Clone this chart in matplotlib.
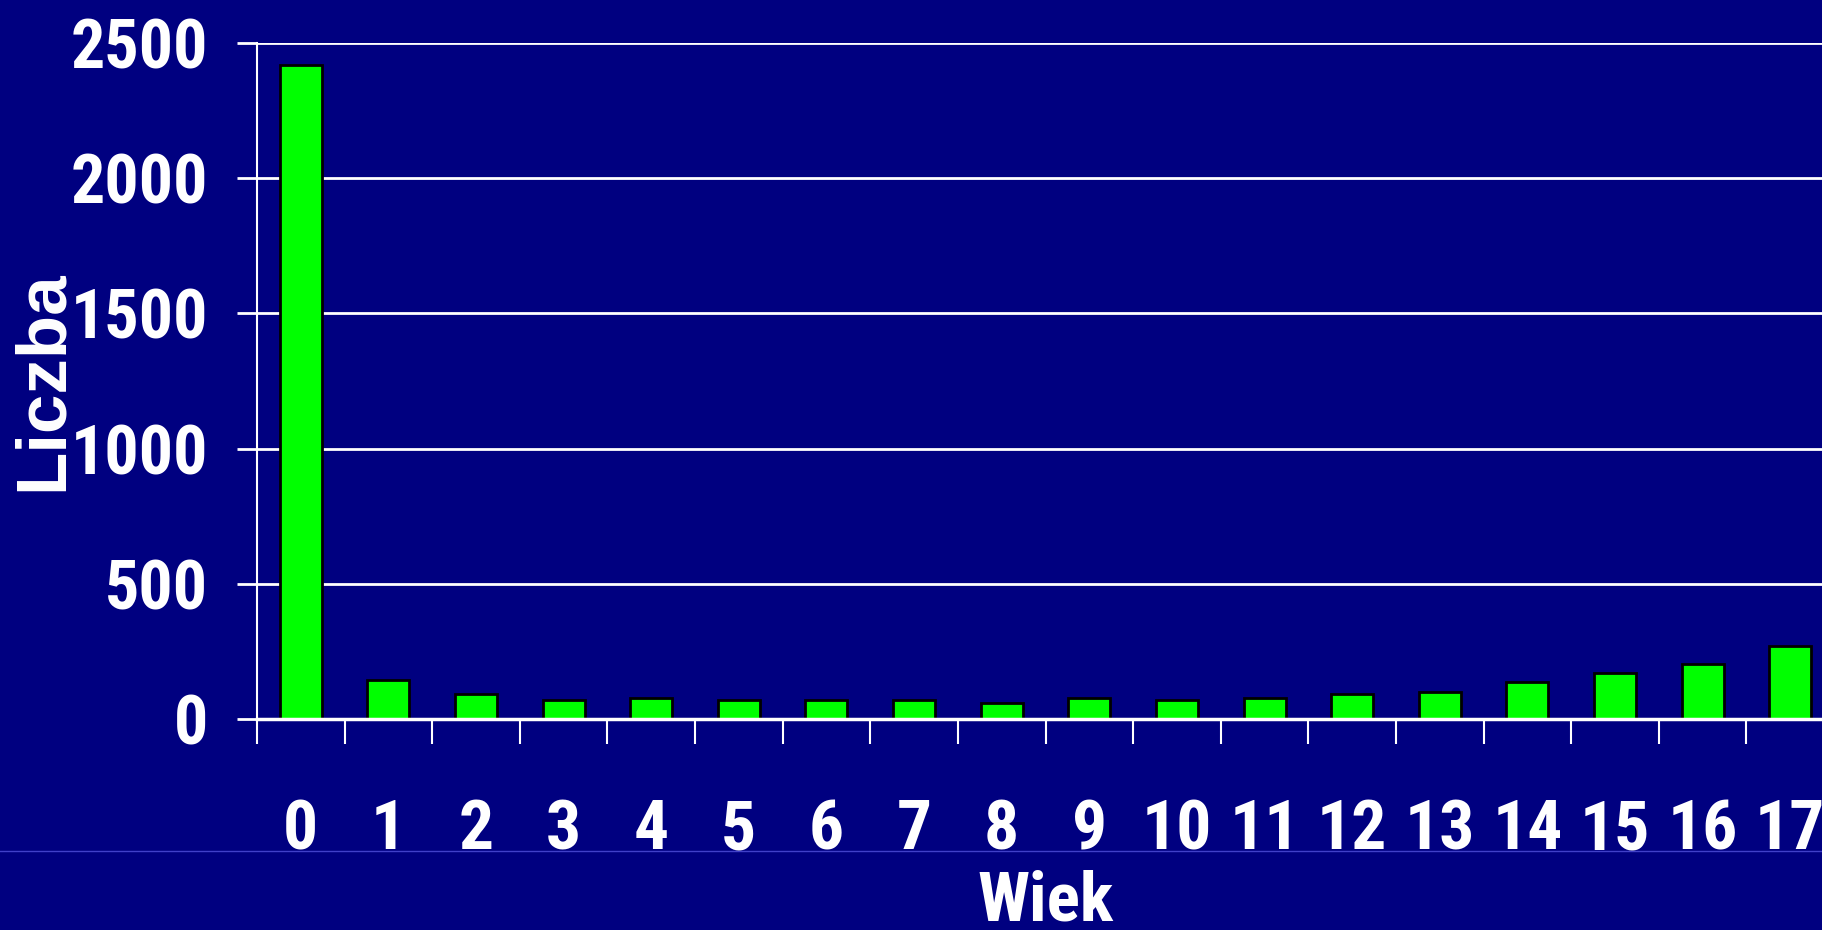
import numpy as np
import matplotlib
matplotlib.use('Agg')
import matplotlib.pyplot as plt
from matplotlib.lines import Line2D
from matplotlib.ticker import FixedLocator

ages = [str(a) for a in range(18)]
counts = [2420, 145, 92, 69, 79, 69, 69, 69, 59, 79, 69, 79, 92, 101, 135, 169, 203, 270]
y_ticks = [0, 500, 1000, 1500, 2000, 2500]

bg = '#000080'
narrow = ['Roboto Condensed', 'DejaVu Sans']

fig = plt.figure(figsize=(18.22, 9.3), dpi=100, facecolor=bg)
# axes run a bit past the right edge, the original slide is cropped there
ax = fig.add_axes([257/1822, 211/930, 1577/1822, 676/930], facecolor=bg)

x = np.arange(len(ages))
ax.bar(x, counts, width=0.48, color='#00ff00', edgecolor='black', linewidth=2, zorder=3)

ax.set_xlim(-0.5, len(ages) - 0.5)
ax.set_ylim(0, 2500)

# grid lines
ax.set_yticks(y_ticks)
ax.yaxis.grid(True, color='white', linewidth=2)
ax.set_axisbelow(True)

for s in ['top', 'right']:
    ax.spines[s].set_visible(False)
ax.spines['left'].set_color('white')
ax.spines['left'].set_linewidth(1.5)
ax.spines['bottom'].set_color('white')
ax.spines['bottom'].set_linewidth(2.5)
ax.spines['bottom'].set_zorder(4)

ax.tick_params(axis='y', colors='white', length=14.4, width=2, pad=21)
for lbl in ax.get_yticklabels():
    lbl.set_family(narrow)
    lbl.set_fontsize(49)
    lbl.set_fontweight('bold')

# age labels at bar centres, tick marks between bars
ax.set_xticks(x)
ax.set_xticklabels(ages, family=narrow, fontsize=50, fontweight='bold', color='white')
ax.xaxis.set_minor_locator(FixedLocator(np.arange(-0.5, len(ages), 1.0)))
ax.tick_params(axis='x', which='major', length=0, pad=57)
ax.tick_params(axis='x', which='minor', colors='white', length=18, width=1.5)

ax.set_xlabel('Wiek', family=narrow, fontsize=50, fontweight='bold', color='white')
ax.xaxis.set_label_coords(0.5, -0.222)
ax.set_ylabel('Liczba', family=['Liberation Sans', 'DejaVu Sans'], fontsize=51,
              fontweight='bold', color='white')
ax.yaxis.label.set_va('center')
ax.yaxis.set_label_coords((44 - 257) / 1577, 0.5)

# thin slide line across the bottom
fig.add_artist(Line2D([0, 1], [1 - 851/930, 1 - 851/930], transform=fig.transFigure,
                      color='#4040c8', linewidth=1, zorder=-1))

fig.savefig('out.png', dpi=100, facecolor=bg)
